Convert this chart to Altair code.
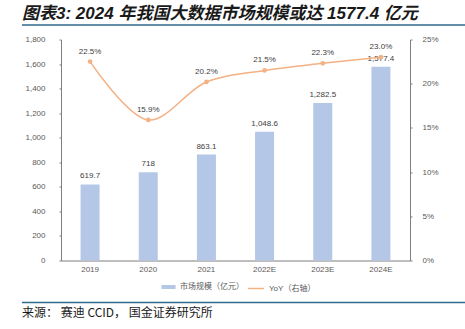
import altair as alt
import pandas as pd

years = ["2019", "2020", "2021", "2022E", "2023E", "2024E"]
market = [619.7, 718, 863.1, 1048.6, 1282.5, 1577.4]
market_labels = ["619.7", "718", "863.1", "1,048.6", "1,282.5", "1,577.4"]
yoy = [0.225, 0.159, 0.202, 0.215, 0.223, 0.230]
yoy_labels = ["22.5%", "15.9%", "20.2%", "21.5%", "22.3%", "23.0%"]

title_text = "图表3:  2024 年我国大数据市场规模或达 1577.4 亿元"
source_text = "来源： 赛迪 CCID， 国金证券研究所"
bar_name = "市场规模（亿元）"
line_name = "YoY（右轴）"

df = pd.DataFrame({
    "year": years, "market": market, "mlab": market_labels,
    "yoy": yoy, "ylab": yoy_labels,
    "bname": [bar_name] * 6, "lname": [line_name] * 6,
})

FONT = "Liberation Sans, Noto Sans CJK SC"
BAR = "#B4C7E7"
LINE = "#F4B183"
GREY = "#595959"

base = alt.Chart(df)
xenc = alt.X("year:N", sort=None, title=None,
             scale=alt.Scale(paddingInner=0.0, paddingOuter=0.0),
             axis=alt.Axis(labelAngle=0, ticks=False, labelPadding=5,
                           labelFontSize=8, labelColor=GREY, labelFont=FONT,
                           domainColor="#7F7F7F"))

yl = alt.Y("market:Q", title=None,
           scale=alt.Scale(domain=[0, 1800]),
           axis=alt.Axis(values=list(range(0, 1801, 200)), format=",.0f", grid=False,
                         tickSize=2, tickColor="#7F7F7F", domainColor="#7F7F7F",
                         labelFontSize=8, labelColor=GREY, labelFont=FONT, labelPadding=14))

bars = base.mark_bar(size=19).encode(
    x=xenc, y=yl,
    color=alt.Color("bname:N", scale=alt.Scale(range=[BAR]),
                    legend=alt.Legend(title=None, orient="none", legendX=100, legendY=240,
                                      symbolType="M-1,-0.28H1V0.28H-1Z", symbolSize=200,
                                      symbolStrokeWidth=0,
                                      labelFontSize=8, labelColor=GREY, labelFont=FONT)),
)
bar_text = base.mark_text(dy=-8, fontSize=8, color="#404040", font=FONT).encode(
    x=xenc, y=yl, text="mlab:N")

left = alt.layer(bars, bar_text)

yr = alt.Y("yoy:Q", title=None,
           scale=alt.Scale(domain=[0, 0.25]),
           axis=alt.Axis(orient="right", values=[0, 0.05, 0.10, 0.15, 0.20, 0.25],
                         format=".0%", grid=False, tickSize=2, tickColor="#7F7F7F",
                         domainColor="#7F7F7F", labelFontSize=8, labelColor=GREY,
                         labelFont=FONT, labelPadding=10))

line = base.mark_line(interpolate="catmull-rom", strokeWidth=1.5).encode(
    x=xenc, y=yr,
    stroke=alt.Stroke("lname:N", scale=alt.Scale(range=[LINE]),
                      legend=alt.Legend(title=None, orient="none", legendX=186, legendY=240,
                                        symbolType="stroke", symbolSize=250,
                                        symbolStrokeWidth=1.5,
                                        labelFontSize=8, labelColor=GREY, labelFont=FONT)),
)
pts = base.mark_point(filled=True, size=22, color=LINE, opacity=1).encode(x=xenc, y=yr)
line_text = base.mark_text(dy=-10, fontSize=8, color="#404040", font=FONT).encode(
    x=xenc, y=yr, text="ylab:N")

right = alt.layer(line, pts, line_text)

one = pd.DataFrame({"a": [0]})
deco_base = alt.Chart(one)
title = deco_base.mark_text(align="left", baseline="middle", fontSize=17,
                            fontWeight="bold", fontStyle="italic", font=FONT,
                            color="#1a1a1a").encode(
    x=alt.value(-39), y=alt.value(-25.5), text=alt.value(title_text))
source = deco_base.mark_text(align="left", baseline="middle", fontSize=12,
                             font="Noto Sans CJK SC", color="#1a1a1a").encode(
    x=alt.value(-39), y=alt.value(273.5), text=alt.value(source_text))
rule_top = deco_base.mark_rule(color="#2E6A8A", strokeWidth=1.5).encode(
    x=alt.value(-39), x2=alt.value(404), y=alt.value(-14.5))
rule_bot = deco_base.mark_rule(color="#2E6A8A", strokeWidth=1.5).encode(
    x=alt.value(-39), x2=alt.value(404), y=alt.value(263))

chart = alt.layer(left, right, title, source, rule_top, rule_bot).resolve_scale(
    y="independent", color="independent", stroke="independent"
).properties(
    width=349, height=221,
    autosize=alt.AutoSizeParams(type="none"),
    padding={"left": 61, "top": 39.5, "right": 55, "bottom": 68.5},
    background="white",
).configure_view(stroke=None)

chart.save("out.html", embed_options={"renderer": "svg", "actions": False})
